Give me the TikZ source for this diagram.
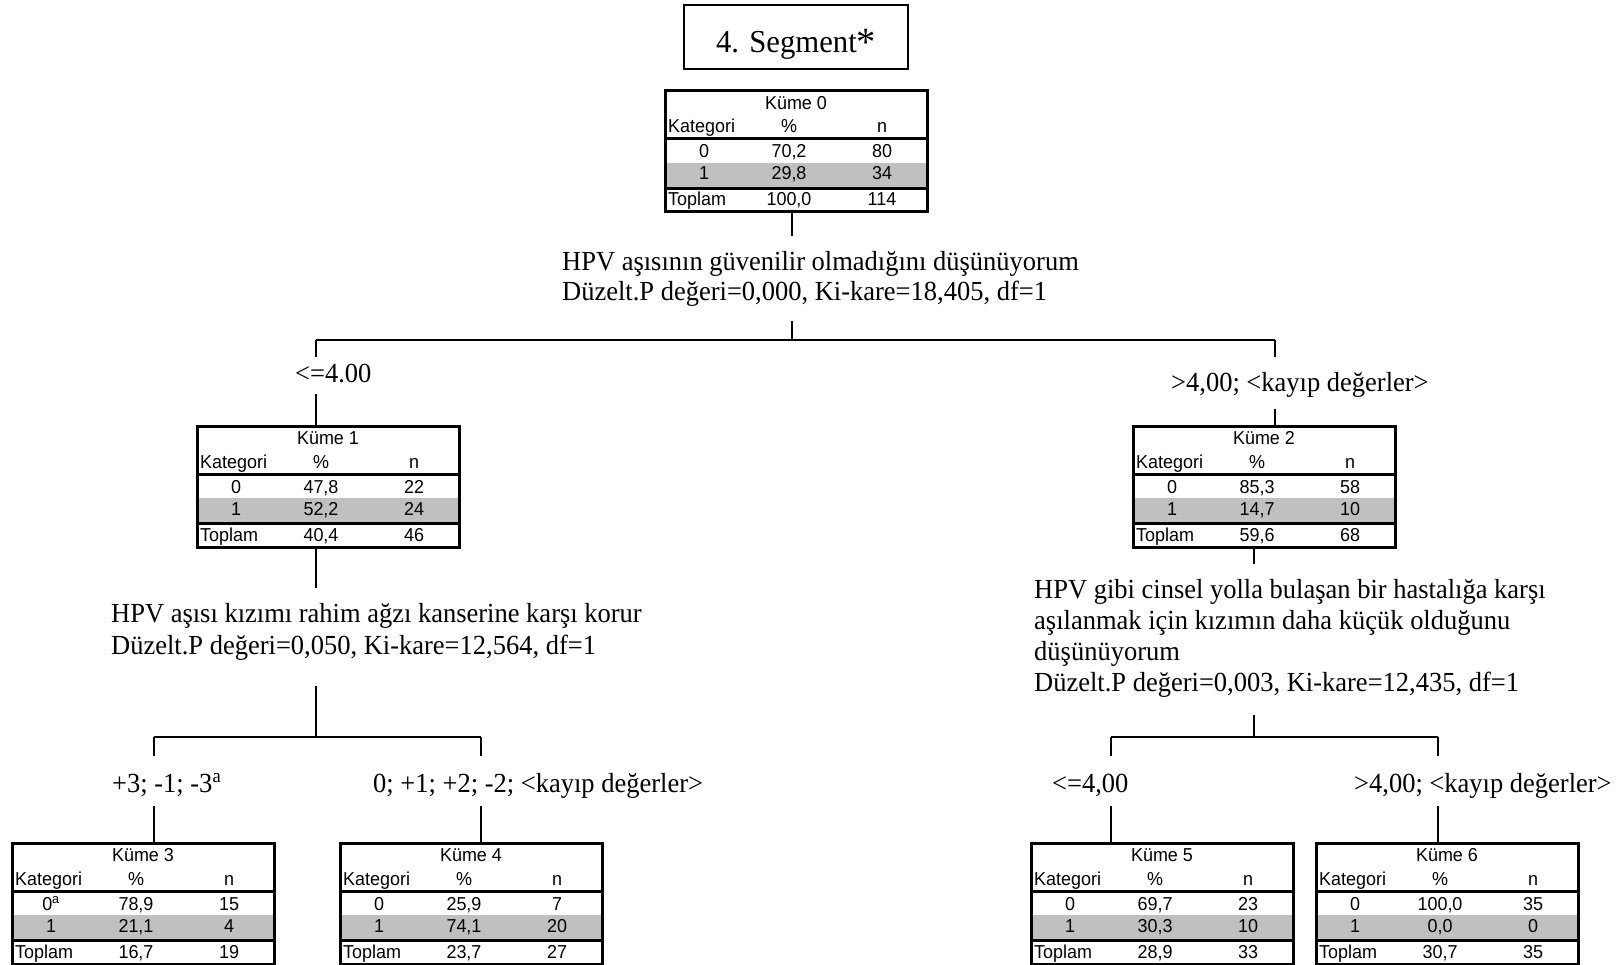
\documentclass[tikz,border=0pt]{standalone}
\usepackage{fontspec}
\setmainfont{Liberation Serif}[FakeStretch=0.96]
\newfontfamily\tabfont{Liberation Sans}[FakeStretch=0.96]
\usetikzlibrary{calc}
\definecolor{rowgray}{RGB}{192,192,192}

\begin{document}
\begin{tikzpicture}[x=1pt,y=-1pt,
  conn/.style={line width=1.8pt},
  rulethick/.style={line width=3pt},
  tblframe/.style={draw, line width=3pt, minimum width=262pt, minimum height=121pt,
    inner sep=0pt, outer sep=0pt, anchor=north west},
  cell/.style={anchor=base, inner sep=0pt, font=\tabfont\fontsize{18.7}{20}\selectfont},
  cellw/.style={cell, anchor=base west},
  lbl/.style={anchor=base west, inner sep=0pt, font=\fontsize{27.6}{31}\selectfont},
  titlebox/.style={draw, line width=2pt, minimum width=224pt, minimum height=64pt,
    inner sep=0pt, text height=36pt, text depth=4pt, font=\fontsize{32}{36}\selectfont}
]
\useasboundingbox (0,0) rectangle (1624,965);

% heading
\node[titlebox] (title) at (796,37) {4. Segment\raisebox{-3pt}{\fontsize{40}{40}\selectfont *}};

% node tables: name / left / top / number / first row label / row values / total
\foreach \nm/\x/\y/\ttl/\la/\pa/\na/\pb/\nb/\pt/\nt in {
  k0/665/91/0/0/{70,2}/80/{29,8}/34/{100,0}/114,
  k1/197/426/1/0/{47,8}/22/{52,2}/24/{40,4}/46,
  k2/1133/426/2/0/{85,3}/58/{14,7}/10/{59,6}/68,
  k3/12/843/3/{0\textsuperscript{a}}/{78,9}/15/{21,1}/4/{16,7}/19,
  k4/340/843/4/0/{25,9}/7/{74,1}/20/{23,7}/27,
  k5/1031/843/5/0/{69,7}/23/{30,3}/10/{28,9}/33,
  k6/1316/843/6/0/{100,0}/35/{0,0}/0/{30,7}/35}{
  \node[tblframe] (\nm) at (\x,\y) {};
  \fill[rowgray] ($(\nm.north west)+(1.5,72)$) rectangle ($(\nm.north east)+(-1.5,96)$);
  \draw[rulethick] ($(\nm.north west)+(0,48)$) -- ($(\nm.north east)+(0,48)$);
  \draw[rulethick] ($(\nm.north west)+(0,97.5)$) -- ($(\nm.north east)+(0,97.5)$);
  \node[cell]  at ($(\nm.north west)+(131,18.5)$) {Küme \ttl};
  \node[cellw] at ($(\nm.north west)+(3,42)$) {Kategori};
  \node[cell]  at ($(\nm.north west)+(124,42)$) {\%};
  \node[cell]  at ($(\nm.north west)+(217,42)$) {n};
  \node[cell]  at ($(\nm.north west)+(39,67)$) {\la};
  \node[cell]  at ($(\nm.north west)+(124,67)$) {\pa};
  \node[cell]  at ($(\nm.north west)+(217,67)$) {\na};
  \node[cell]  at ($(\nm.north west)+(39,89)$) {1};
  \node[cell]  at ($(\nm.north west)+(124,89)$) {\pb};
  \node[cell]  at ($(\nm.north west)+(217,89)$) {\nb};
  \node[cellw] at ($(\nm.north west)+(3,115)$) {Toplam};
  \node[cell]  at ($(\nm.north west)+(124,115)$) {\pt};
  \node[cell]  at ($(\nm.north west)+(217,115)$) {\nt};
}

% split texts
\node[lbl] (q0a) at (562,271) {HPV aşısının güvenilir olmadığını düşünüyorum};
\node[lbl] (q0b) at (562,301) {Düzelt.P değeri=0,000, Ki-kare=18,405, df=1};

\node[lbl] (q1a) at (111,622) {HPV aşısı kızımı rahim ağzı kanserine karşı korur};
\node[lbl] (q1b) at (111,654) {Düzelt.P değeri=0,050, Ki-kare=12,564, df=1};

\node[lbl] (q2a) at (1034,598) {HPV gibi cinsel yolla bulaşan bir hastalığa karşı};
\node[lbl] (q2b) at (1034,629) {aşılanmak için kızımın daha küçük olduğunu};
\node[lbl] (q2c) at (1034,660) {düşünüyorum};
\node[lbl] (q2d) at (1034,691) {Düzelt.P değeri=0,003, Ki-kare=12,435, df=1};

% branch labels
\node[lbl] (e1) at (295,382) {<=4.00};
\node[lbl] (e2) at (1171,391) {>4,00; <kayıp değerler>};
\node[lbl] (e3) at (112,792) {+3; -1; -3\textsuperscript{a}};
\node[lbl] (e4) at (373,792) {0; +1; +2; -2; <kayıp değerler>};
\node[lbl] (e5) at (1052,792) {<=4,00};
\node[lbl] (e6) at (1354,792) {>4,00; <kayıp değerler>};

% split points and branch ends
\coordinate (s0) at (792,340);
\coordinate (b1) at (316,357);
\coordinate (b2) at (1275,357);
\coordinate (s1) at (316,737);
\coordinate (b3) at (154,756);
\coordinate (b4) at (481,756);
\coordinate (s2) at (1254,737);
\coordinate (b5) at (1111,756);
\coordinate (b6) at (1438,756);

% root split
\draw[conn] (k0.south -| s0) -- ++(0,24);
\draw[conn] (s0) -- ++(0,-19);
\draw[conn] (s0 -| b1) -- (s0 -| b2);
\draw[conn] (s0 -| b1) -- (b1);
\draw[conn] (s0 -| b2) -- (b2);
\draw[conn] (k1.north -| b1) -- ++(0,-32);
\draw[conn] (k2.north -| b2) -- ++(0,-17);

% left split
\draw[conn] (k1.south -| s1) -- ++(0,41);
\draw[conn] (s1) -- ++(0,-51);
\draw[conn] (s1 -| b3) -- (s1 -| b4);
\draw[conn] (s1 -| b3) -- (b3);
\draw[conn] (s1 -| b4) -- (b4);
\draw[conn] (k3.north -| b3) -- ++(0,-37);
\draw[conn] (k4.north -| b4) -- ++(0,-37);

% right split
\draw[conn] (k2.south -| s2) -- ++(0,17);
\draw[conn] (s2) -- ++(0,-22);
\draw[conn] (s2 -| b5) -- (s2 -| b6);
\draw[conn] (s2 -| b5) -- (b5);
\draw[conn] (s2 -| b6) -- (b6);
\draw[conn] (k5.north -| b5) -- ++(0,-37);
\draw[conn] (k6.north -| b6) -- ++(0,-37);
\end{tikzpicture}
\end{document}
